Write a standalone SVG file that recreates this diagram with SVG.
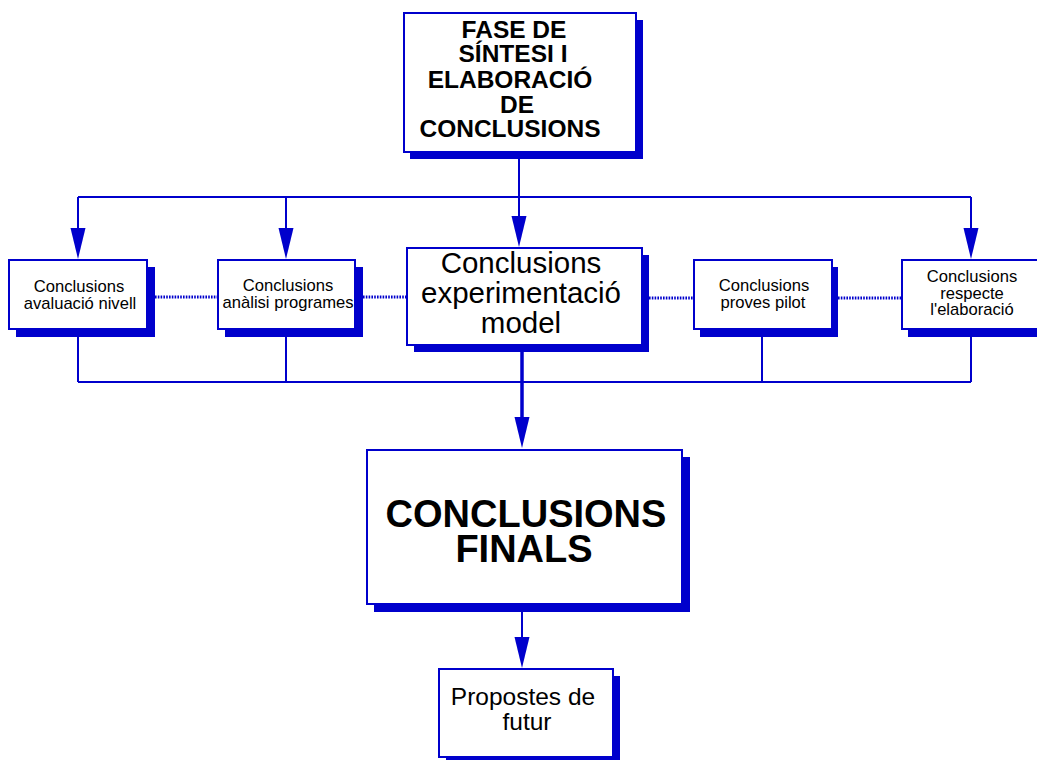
<svg xmlns="http://www.w3.org/2000/svg" xmlns:xlink="http://www.w3.org/1999/xlink" width="1037" height="760" viewBox="0 0 1037 760">
  <style>
    .box { fill: #ffffff; stroke: #0000cc; stroke-width: 2; }
    .shadow { fill: #0000cc; stroke: none; }
    .line { fill: none; stroke: #0000cc; stroke-width: 2; }
    .thick { fill: none; stroke: #0000cc; stroke-width: 3.5; }
    .dots { fill: none; stroke: #0000cc; stroke-width: 3; stroke-dasharray: 1.6 1.2; }
    .head { fill: #0000cc; }
    text { font-family: "Liberation Sans", Arial, sans-serif; fill: #000000; text-anchor: middle; }
    .small { font-size: 16.6px; }
    .mid { font-size: 29.5px; }
    .big { font-size: 24.5px; }
    .bold { font-weight: bold; }
  </style>
  <defs>
    <!-- downward arrowhead, tip at origin -->
    <path id="arrow" class="head" d="M-7.5,-31 L7.5,-31 L0,0 Z"/>
  </defs>
  <rect width="1037" height="760" fill="#ffffff"/>

  <!-- connectors -->
  <g id="connectors">
    <!-- fan-out from phase box -->
    <path class="line" d="M519,159 V217"/>
    <path class="line" d="M78,197 H971"/>
    <path class="line" d="M78,197 V229"/>
    <path class="line" d="M286,197 V229"/>
    <path class="line" d="M971,197 V229"/>
    <use xlink:href="#arrow" x="78" y="259"/>
    <use xlink:href="#arrow" x="286" y="259"/>
    <use xlink:href="#arrow" x="519" y="247"/>
    <use xlink:href="#arrow" x="971" y="259"/>
    <!-- links between sibling conclusions -->
    <path class="dots" d="M155,297 H217"/>
    <path class="dots" d="M363,297 H406"/>
    <path class="dots" d="M649,298 H693"/>
    <path class="dots" d="M838,298 H901"/>
    <!-- fan-in to final conclusions -->
    <path class="line" d="M78,337 V382"/>
    <path class="line" d="M286,337 V382"/>
    <path class="line" d="M762,337 V382"/>
    <path class="line" d="M971,337 V382"/>
    <path class="line" d="M78,382 H971"/>
    <path class="thick" d="M522,352 V420"/>
    <use xlink:href="#arrow" x="522" y="448"/>
    <!-- final to future proposals -->
    <path class="line" d="M522,612 V640"/>
    <use xlink:href="#arrow" x="522" y="668"/>
  </g>

  <g id="node-fase">
    <rect class="shadow" x="410" y="20" width="233" height="139"/>
    <rect class="box" x="404" y="13" width="232" height="139"/>
    <text class="big bold" x="514" y="38">FASE DE</text>
    <text class="big bold" x="513" y="62">SÍNTESI I</text>
    <text class="big bold" x="510" y="88">ELABORACIÓ</text>
    <text class="big bold" x="517" y="113">DE</text>
    <text class="big bold" x="510" y="137">CONCLUSIONS</text>
  </g>

  <g id="node-avaluacio">
    <rect class="shadow" x="16" y="267" width="139" height="70"/>
    <rect class="box" x="9" y="260" width="138" height="69"/>
    <text class="small" x="79" y="292">Conclusions</text>
    <text class="small" x="80" y="309">avaluació nivell</text>
  </g>

  <g id="node-analisi">
    <rect class="shadow" x="225" y="267" width="138" height="70"/>
    <rect class="box" x="218" y="260" width="137" height="69"/>
    <text class="small" x="288" y="291">Conclusions</text>
    <text class="small" x="288" y="308">anàlisi programes</text>
  </g>

  <g id="node-experimentacio">
    <rect class="shadow" x="414" y="255" width="235" height="97"/>
    <rect class="box" x="407" y="248" width="235" height="97"/>
    <text class="mid" x="521" y="273">Conclusions</text>
    <text class="mid" x="521" y="303">experimentació</text>
    <text class="mid" x="521" y="333">model</text>
  </g>

  <g id="node-pilot">
    <rect class="shadow" x="700" y="267" width="138" height="70"/>
    <rect class="box" x="694" y="260" width="138" height="69"/>
    <text class="small" x="764" y="291">Conclusions</text>
    <text class="small" x="763" y="308">proves pilot</text>
  </g>

  <g id="node-elaboracio">
    <rect class="shadow" x="908" y="267" width="150" height="70"/>
    <rect class="box" x="902" y="260" width="150" height="69"/>
    <text class="small" x="972" y="282">Conclusions</text>
    <text class="small" x="972" y="299">respecte</text>
    <text class="small" x="972" y="315">l'elaboració</text>
  </g>

  <g id="node-finals">
    <rect class="shadow" x="374" y="457" width="316" height="155"/>
    <rect class="box" x="367" y="450" width="315" height="154"/>
    <text class="bold" font-size="38" x="526" y="527">CONCLUSIONS</text>
    <text class="bold" font-size="38" x="524" y="562">FINALS</text>
  </g>

  <g id="node-propostes">
    <rect class="shadow" x="446" y="676" width="174" height="88"/>
    <rect class="box" x="439" y="669" width="174" height="88"/>
    <text class="big" x="523" y="705">Propostes de</text>
    <text class="big" x="527" y="730">futur</text>
  </g>
</svg>
